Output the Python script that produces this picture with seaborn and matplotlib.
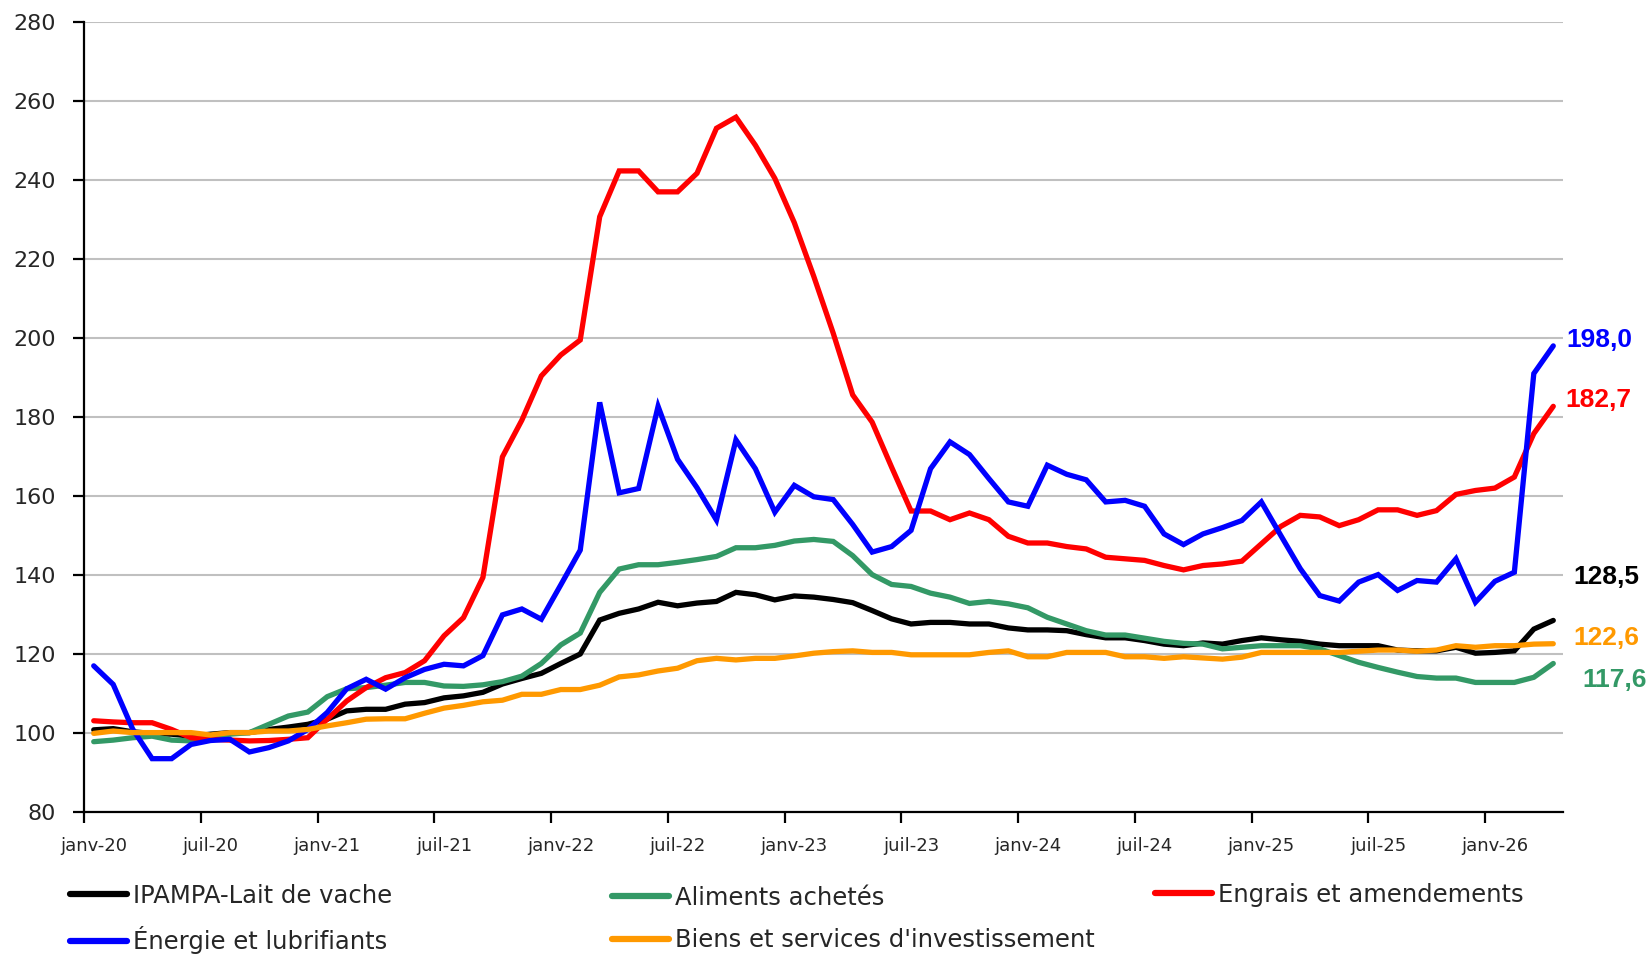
import matplotlib
matplotlib.use("Agg")
import matplotlib.pyplot as plt
from matplotlib.lines import Line2D
import seaborn as sns
import pandas as pd
import numpy as np

# ---------------------------
# Data (monthly index, janv-20 -> avr-26)
# ---------------------------
months = pd.date_range("2020-01-01", "2026-04-01", freq="MS")

ipampa_lait = [100.8, 101.1, 100.3, 99.9, 99.7, 99.2, 99.7, 100.1, 100.1, 100.9,
               101.5, 102.2, 103.5, 105.6, 106.0, 106.0, 107.3, 107.7, 108.9, 109.4,
               110.3, 112.4, 113.8, 115.1, 117.6, 120.0, 128.6, 130.3, 131.4, 133.1,
               132.2, 132.9, 133.3, 135.6, 135.0, 133.7, 134.7, 134.4, 133.8, 133.0,
               131.0, 128.9, 127.6, 128.0, 128.0, 127.6, 127.6, 126.6, 126.1, 126.1,
               125.9, 124.9, 124.1, 124.1, 123.4, 122.5, 122.1, 122.8, 122.5, 123.4,
               124.1, 123.6, 123.2, 122.5, 122.1, 122.1, 122.1, 121.0, 120.8, 120.8,
               121.7, 120.2, 120.4, 120.8, 126.3, 128.5]

aliments = [97.8, 98.2, 98.8, 99.2, 98.2, 98.0, 99.2, 99.7, 100.1, 102.2,
            104.3, 105.3, 109.2, 111.2, 111.5, 112.1, 112.8, 112.8, 111.9, 111.8,
            112.2, 113.0, 114.4, 117.6, 122.3, 125.3, 135.6, 141.5, 142.6, 142.6,
            143.2, 143.9, 144.7, 146.9, 146.9, 147.5, 148.6, 149.0, 148.5, 144.9,
            140.1, 137.6, 137.1, 135.4, 134.4, 132.8, 133.3, 132.7, 131.7, 129.3,
            127.6, 125.9, 124.8, 124.8, 124.0, 123.2, 122.7, 122.5, 121.3, 121.7,
            122.1, 122.1, 122.1, 121.3, 119.6, 117.9, 116.6, 115.4, 114.3, 113.9,
            113.9, 112.8, 112.8, 112.8, 114.1, 117.6]

engrais = [103.1, 102.8, 102.6, 102.6, 100.9, 98.8, 98.4, 98.2, 98.0, 98.1,
           98.4, 98.8, 103.5, 108.1, 111.5, 114.0, 115.3, 118.3, 124.6, 129.2,
           139.4, 169.9, 179.2, 190.4, 195.7, 199.5, 230.7, 242.3, 242.3, 237.0,
           237.0, 241.7, 253.1, 255.9, 248.8, 240.4, 229.2, 215.6, 201.2, 185.6,
           178.7, 167.3, 156.2, 156.2, 154.0, 155.7, 154.0, 149.8, 148.1, 148.1,
           147.2, 146.6, 144.5, 144.1, 143.7, 142.4, 141.3, 142.4, 142.8, 143.5,
           147.9, 152.3, 155.1, 154.7, 152.5, 154.0, 156.5, 156.5, 155.1, 156.3,
           160.4, 161.4, 162.0, 164.8, 175.8, 182.7]

energie = [117.0, 112.3, 101.0, 93.5, 93.5, 97.1, 98.1, 98.4, 95.2, 96.3,
           98.0, 100.9, 105.2, 111.2, 113.6, 111.1, 114.0, 116.1, 117.4, 117.0,
           119.6, 129.9, 131.4, 128.8, 137.5, 146.3, 183.7, 160.8, 161.9, 182.7,
           169.3, 162.1, 153.9, 174.2, 166.9, 155.9, 162.7, 159.8, 159.1, 152.8,
           145.8, 147.2, 151.3, 166.9, 173.7, 170.5, 164.4, 158.5, 157.4, 167.8,
           165.5, 164.1, 158.5, 158.9, 157.4, 150.4, 147.7, 150.4, 152.0, 153.8,
           158.5, 150.0, 141.6, 134.8, 133.4, 138.2, 140.1, 136.1, 138.6, 138.2,
           144.1, 133.1, 138.4, 140.7, 191.0, 198.0]

biens = [99.9, 100.5, 100.1, 100.1, 100.1, 100.1, 99.5, 100.1, 100.1, 100.5,
         100.5, 100.9, 101.8, 102.6, 103.5, 103.6, 103.6, 105.0, 106.3, 107.0,
         107.9, 108.3, 109.8, 109.8, 111.0, 111.0, 112.1, 114.2, 114.7, 115.7,
         116.4, 118.3, 118.9, 118.5, 118.9, 118.9, 119.5, 120.2, 120.6, 120.8,
         120.4, 120.4, 119.8, 119.8, 119.8, 119.8, 120.4, 120.8, 119.3, 119.3,
         120.4, 120.4, 120.4, 119.3, 119.3, 118.9, 119.3, 119.0, 118.7, 119.2,
         120.4, 120.4, 120.4, 120.4, 120.4, 120.7, 121.0, 121.0, 120.7, 121.0,
         122.1, 121.7, 122.1, 122.1, 122.5, 122.6]

series_names = ["IPAMPA-Lait de vache", "Aliments achetés", "Engrais et amendements",
                "Énergie et lubrifiants", "Biens et services d'investissement"]
series_values = [ipampa_lait, aliments, engrais, energie, biens]
colors = ["#000000", "#339966", "#ff0000", "#0000ff", "#ff9900"]

tick_labels = ["janv-20", "juil-20", "janv-21", "juil-21", "janv-22", "juil-22",
               "janv-23", "juil-23", "janv-24", "juil-24", "janv-25", "juil-25", "janv-26"]

# ---------------------------
# Long format for seaborn
# ---------------------------
frames = []
for name, vals in zip(series_names, series_values):
    frames.append(pd.DataFrame({"pos": np.arange(len(months)) + 0.5,
                                "valeur": vals, "serie": name}))
df = pd.concat(frames, ignore_index=True)
palette = dict(zip(series_names, colors))

sns.set_style("white")
plt.rcParams["font.family"] = ["DejaVu Sans"]

fig = plt.figure(figsize=(16.49, 9.55), dpi=100)
ax = fig.add_axes([84 / 1649, 1 - 812 / 955, (1563 - 84) / 1649, (812 - 22) / 955])

sns.lineplot(data=df, x="pos", y="valeur", hue="serie", hue_order=series_names,
             palette=palette, linewidth=3.8, legend=False, ax=ax,
             solid_capstyle="round", solid_joinstyle="miter")

ax.set_xlim(0, len(months))
ax.set_ylim(80, 280)
ax.set_yticks(np.arange(80, 281, 20))
# tick marks on month boundaries, labels centred on the month itself
ax.set_xticks(np.arange(0, len(months), 6))
ax.set_xticklabels([])
ax.set_xticks(np.arange(0, len(months), 6) + 0.5, minor=True)
ax.set_xticklabels(tick_labels, minor=True)
ax.set_xlabel("")
ax.set_ylabel("")

ax.yaxis.grid(True, color="#c0c0c0", linewidth=1.5)
ax.xaxis.grid(False)
ax.set_axisbelow(True)
for s in ["top", "right"]:
    ax.spines[s].set_visible(False)
for s in ["left", "bottom"]:
    ax.spines[s].set_color("black")
    ax.spines[s].set_linewidth(1.6)
    ax.spines[s].set_zorder(5)

ax.tick_params(axis="y", which="major", direction="out", length=8, width=1.6,
               color="black", labelsize=16, pad=12, left=True)
ax.tick_params(axis="x", which="major", direction="out", length=8, width=1.6,
               color="black", bottom=True)
ax.tick_params(axis="x", which="minor", length=0, labelsize=13, pad=18, bottom=True)

# end-of-series labels
end_labels = [("198,0", 76.15, 199.5, colors[3]),
              ("182,7", 76.13, 184.4, colors[2]),
              ("128,5", 76.55, 139.4, colors[0]),
              ("122,6", 76.52, 124.0, colors[4]),
              ("117,6", 76.98, 113.5, colors[1])]
for txt, xx, yy, c in end_labels:
    ax.text(xx, yy, txt, color=c, fontsize=19, fontweight="bold",
            family=["Liberation Sans", "DejaVu Sans"],
            ha="left", va="center", clip_on=False)

# legend, three columns placed like the original
handles = [Line2D([0], [0], color=c, lw=4.5, solid_capstyle="round") for c in colors]
cols = [([0, 3], 70), ([1, 4], 612), ([2], 1155)]
for idx, xpix in cols:
    ypix = 919 if len(idx) == 2 else 895
    fig.legend([handles[i] for i in idx], [series_names[i] for i in idx],
               loc="center left", bbox_to_anchor=(xpix / 1649, 1 - ypix / 955),
               frameon=False, fontsize=17.5, handlelength=2.35, handletextpad=0.25,
               labelspacing=0.75, borderpad=0, borderaxespad=0)

fig.savefig("out.png", dpi=100)
